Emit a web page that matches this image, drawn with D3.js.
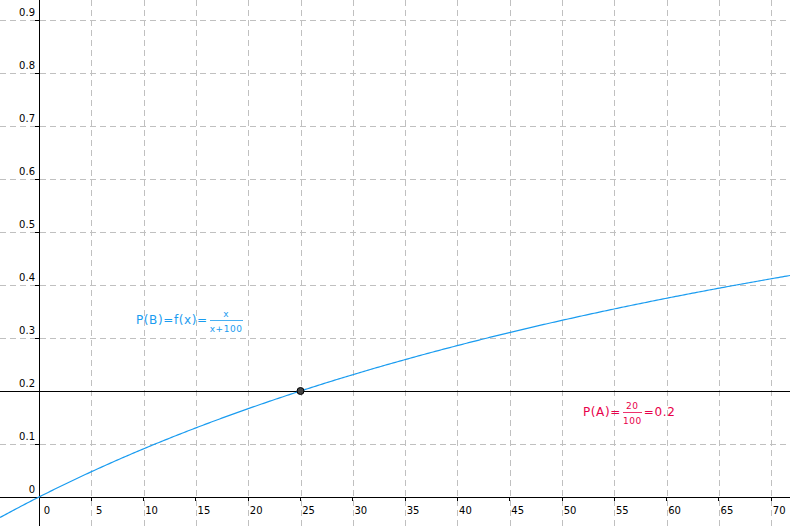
<!DOCTYPE html>
<html>
<head>
<meta charset="utf-8">
<script src="https://cdn.jsdelivr.net/npm/d3@7"></script>
<style>
body { margin: 0; background: #fff; }
text { font-family: "DejaVu Sans", sans-serif; }
line { shape-rendering: crispEdges; }
</style>
</head>
<body>
<svg id="chart" width="790" height="526"></svg>
<script>
// ticks and data
var xTicks = [0, 5, 10, 15, 20, 25, 30, 35, 40, 45, 50, 55, 60, 65, 70];
var yTicks = [0, 0.1, 0.2, 0.3, 0.4, 0.5, 0.6, 0.7, 0.8, 0.9];
var pA = 0.2;
var pointX = [25];
var pointY = [0.2];

var width = 790, height = 526;
var svg = d3.select("#chart");

// x=0 at px 39, 10.46 px per unit; y=0 at px 497, 530 px per unit
var x = d3.scaleLinear().domain([-39 / 10.46, (790 - 39) / 10.46]).range([0, width]);
var y = d3.scaleLinear().domain([-(526 - 497) / 530, 497 / 530]).range([height, 0]);

// grid
svg.selectAll(".vg").data(xTicks.filter(d => d != 0)).enter().append("line")
	.attr("x1", d => Math.round(x(d)) + 0.5).attr("x2", d => Math.round(x(d)) + 0.5)
	.attr("y1", 0).attr("y2", height)
	.attr("stroke", "#c0c0c0").attr("stroke-dasharray", "6,4");
svg.selectAll(".hg").data(yTicks.filter(d => d != 0)).enter().append("line")
	.attr("x1", 0).attr("x2", width)
	.attr("y1", d => Math.round(y(d)) + 0.5).attr("y2", d => Math.round(y(d)) + 0.5)
	.attr("stroke", "#c0c0c0").attr("stroke-dasharray", "6,4");

// axes
svg.append("line").attr("x1", 0).attr("x2", width).attr("y1", y(0)).attr("y2", y(0)).attr("stroke", "#000");
svg.append("line").attr("x1", x(0)).attr("x2", x(0)).attr("y1", 0).attr("y2", height).attr("stroke", "#000");
svg.selectAll(".xt").data(xTicks.filter(d => d != 0)).enter().append("line")
	.attr("x1", d => x(d)).attr("x2", d => x(d)).attr("y1", y(0)).attr("y2", y(0) + 4).attr("stroke", "#000");
svg.selectAll(".yt").data(yTicks.filter(d => d != 0)).enter().append("line")
	.attr("x1", x(0) - 4).attr("x2", x(0)).attr("y1", d => y(d)).attr("y2", d => y(d)).attr("stroke", "#000");

svg.selectAll(".xl").data(xTicks).enter().append("text")
	.attr("x", d => x(d) + 8).attr("y", y(0) + 17)
	.attr("text-anchor", "middle").attr("font-size", 10).text(d => d);
svg.selectAll(".yl").data(yTicks).enter().append("text")
	.attr("x", x(0) - 4).attr("y", d => y(d) - 4)
	.attr("text-anchor", "end").attr("font-size", 10).text(d => d);

// line P(A)
svg.append("line").attr("x1", 0).attr("x2", width).attr("y1", y(pA)).attr("y2", y(pA)).attr("stroke", "#000");

// curve f(x) = x/(x+100)
var xs = d3.range(x.domain()[0], x.domain()[1] + 0.2, 0.2);
svg.append("path")
	.datum(xs)
	.attr("fill", "none").attr("stroke", "#1a9cf0").attr("stroke-width", 1.2)
	.attr("d", d3.line().x(d => x(d)).y(d => y(d / (d + 100))));

// intersection point
svg.selectAll(".pt").data(pointX).enter().append("circle")
	.attr("cx", d => x(d)).attr("cy", (d, i) => y(pointY[i]))
	.attr("r", 3.5).attr("fill", "#444").attr("stroke", "#000");

// labels
function fracLabel(px, py, pre, num, den, post, color) {
	var g = svg.append("g").attr("fill", color).attr("font-size", 12).attr("letter-spacing", 0.6);
	var t = g.append("text").attr("x", px).attr("y", py).text(pre);
	var w = t.node().getComputedTextLength();
	var fx = px + w + 2;
	var nt = g.append("text").attr("x", fx).attr("y", py - 7).attr("font-size", 9).text(num);
	var dt = g.append("text").attr("x", fx).attr("y", py + 8).attr("font-size", 9).text(den);
	var fw = Math.max(nt.node().getComputedTextLength(), dt.node().getComputedTextLength());
	nt.attr("x", fx + (fw - nt.node().getComputedTextLength()) / 2);
	dt.attr("x", fx + (fw - dt.node().getComputedTextLength()) / 2);
	g.append("line").attr("x1", fx).attr("x2", fx + fw).attr("y1", py - 4).attr("y2", py - 4)
		.attr("stroke", color).attr("stroke-width", 0.8);
	if (post) g.append("text").attr("x", fx + fw + 2).attr("y", py).text(post);
}
fracLabel(136, 324, "P(B)=f(x)=", "x", "x+100", "", "#1a9cf0");
fracLabel(583, 416, "P(A)=", "20", "100", "=0.2", "#e8004a");
</script>
</body>
</html>
